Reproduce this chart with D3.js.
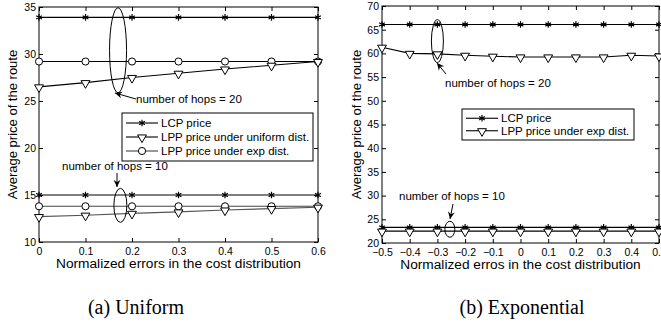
<!DOCTYPE html>
<html>
<head>
<meta charset="utf-8">
<script src="https://cdn.jsdelivr.net/npm/d3@7"></script>
<style>
  body { margin: 0; background: #fff; }
  svg { display: block; font-family: "Liberation Sans", Arial, sans-serif; }
</style>
</head>
<body>
<div id="chart"></div>
<script>
// panel (a): uniform
const errA = [0, 0.1, 0.2, 0.3, 0.4, 0.5, 0.6];
const lcp20A = [33.9, 33.9, 33.9, 33.9, 33.9, 33.9, 33.9];
const uni20A = [26.5, 26.95, 27.5, 27.95, 28.4, 28.8, 29.2];
const exp20A = [29.2, 29.2, 29.2, 29.2, 29.2, 29.2, 29.2];
const lcp10A = [15.0, 15.0, 15.0, 15.0, 15.0, 15.0, 15.0];
const uni10A = [12.7, 12.85, 13.05, 13.2, 13.4, 13.55, 13.7];
const exp10A = [13.8, 13.8, 13.8, 13.8, 13.8, 13.8, 13.8];
const yTicksA = [10, 15, 20, 25, 30, 35];
const xTicksA = [0, 0.1, 0.2, 0.3, 0.4, 0.5, 0.6];

// panel (b): exponential
const errB = [-0.5, -0.4, -0.3, -0.2, -0.1, 0, 0.1, 0.2, 0.3, 0.4, 0.5];
const lcp20B = [66.1, 66.1, 66.1, 66.1, 66.1, 66.1, 66.1, 66.1, 66.1, 66.1, 66.1];
const exp20B = [61.3, 60.0, 59.9, 59.6, 59.4, 59.25, 59.25, 59.25, 59.25, 59.6, 59.45];
const lcp10B = [23.3, 23.3, 23.3, 23.3, 23.3, 23.3, 23.3, 23.3, 23.3, 23.3, 23.3];
const exp10B = [22.5, 22.5, 22.5, 22.5, 22.5, 22.5, 22.5, 22.5, 22.5, 22.5, 22.5];
const yTicksB = [20, 25, 30, 35, 40, 45, 50, 55, 60, 65, 70];
const xTicksB = [-0.5, -0.4, -0.3, -0.2, -0.1, 0, 0.1, 0.2, 0.3, 0.4, 0.5];

const svg = d3.select("#chart").append("svg")
  .attr("width", 661).attr("height", 335);

const star = d3.symbol().type(d3.symbolAsterisk).size(30);
const tri = d3.symbol().type(d3.symbolTriangle).size(34);
const circ = d3.symbol().type(d3.symbolCircle).size(40);

function marker(g, kind, cx, cy) {
  if (kind === "star") {
    g.append("path").attr("d", star()).attr("transform", `translate(${cx},${cy})`)
      .attr("fill", "none").attr("stroke", "#000").attr("stroke-width", 1.2);
  } else if (kind === "tri") {
    g.append("path").attr("d", tri()).attr("transform", `translate(${cx},${cy + 0.5}) rotate(180)`)
      .attr("fill", "#fff").attr("stroke", "#000").attr("stroke-width", 1);
  } else {
    g.append("path").attr("d", circ()).attr("transform", `translate(${cx},${cy})`)
      .attr("fill", "#fff").attr("stroke", "#000").attr("stroke-width", 1);
  }
}

function panel(o) {
  const x = d3.scaleLinear().domain(o.xDomain).range([o.left, o.right]);
  const y = d3.scaleLinear().domain(o.yDomain).range([o.bottom, o.top]);
  const g = svg.append("g");

  g.append("rect").attr("x", o.left).attr("y", o.top)
    .attr("width", o.right - o.left).attr("height", o.bottom - o.top)
    .attr("fill", "none").attr("stroke", "#000").attr("stroke-width", 1);

  // inside ticks on all four sides, matlab style
  const ax = g.append("g").attr("transform", `translate(0,${o.bottom})`)
    .call(d3.axisBottom(x).tickValues(o.xTicks).tickSizeInner(-4).tickSizeOuter(0)
      .tickPadding(6).tickFormat(o.xFmt));
  const axT = g.append("g").attr("transform", `translate(0,${o.top})`)
    .call(d3.axisTop(x).tickValues(o.xTicks).tickSizeInner(-4).tickSizeOuter(0).tickFormat(""));
  const ay = g.append("g").attr("transform", `translate(${o.left},0)`)
    .call(d3.axisLeft(y).tickValues(o.yTicks).tickSizeInner(-4).tickSizeOuter(0).tickPadding(3));
  const ayR = g.append("g").attr("transform", `translate(${o.right},0)`)
    .call(d3.axisRight(y).tickValues(o.yTicks).tickSizeInner(-4).tickSizeOuter(0).tickFormat(""));
  [ax, axT, ay, ayR].forEach(a => {
    a.select(".domain").remove();
    a.selectAll("text").attr("font-size", 10.5).attr("fill", "#000")
      .attr("font-family", "Liberation Sans, Arial, sans-serif");
  });

  const line = d3.line().x((d, i) => x(o.xs[i])).y(d => y(d));
  o.series.forEach(s => {
    g.append("path").attr("d", line(s.values)).attr("fill", "none")
      .attr("stroke", s.color || "#000").attr("stroke-width", 1.1);
  });
  o.series.forEach(s => {
    s.values.forEach((v, i) => marker(g, s.kind, x(o.xs[i]), y(v)));
  });

  g.append("text").attr("x", (o.left + o.right) / 2).attr("y", o.bottom + 26)
    .attr("text-anchor", "middle").attr("font-size", 13.7).text(o.xLabel);
  g.append("text").attr("transform", `translate(${o.yLabelX},${(o.top + o.bottom) / 2}) rotate(-90)`)
    .attr("text-anchor", "middle").attr("font-size", 13).text("Average price of the route");

  // legend
  const L = o.legend;
  g.append("rect").attr("x", L.x).attr("y", L.y).attr("width", L.w)
    .attr("height", L.rowH * L.items.length + 6)
    .attr("fill", "#fff").attr("stroke", "#000").attr("stroke-width", 1);
  L.items.forEach((it, i) => {
    const cy = L.y + 3 + L.rowH * (i + 0.5);
    g.append("line").attr("x1", L.x + 4).attr("x2", L.x + 36).attr("y1", cy).attr("y2", cy)
      .attr("stroke", it.color || "#000").attr("stroke-width", 1.1);
    marker(g, it.kind, L.x + 20, cy);
    g.append("text").attr("x", L.x + 39).attr("y", cy + 4).attr("font-size", 11.5).text(it.label);
  });

  // annotations
  o.notes.forEach(n => {
    g.append("ellipse").attr("cx", x(n.ex)).attr("cy", y(n.ey)).attr("rx", n.rx).attr("ry", n.ry)
      .attr("fill", "none").attr("stroke", "#000").attr("stroke-width", 1);
    g.append("text").attr("x", n.tx).attr("y", n.ty).attr("font-size", 11.5).text(n.text);
    const [x1, y1, x2, y2] = n.arrow;
    g.append("line").attr("x1", x1).attr("y1", y1).attr("x2", x2).attr("y2", y2)
      .attr("stroke", "#000").attr("stroke-width", 1);
    const ang = Math.atan2(y2 - y1, x2 - x1), hl = 8, hw = 0.45;
    const p = [[x2, y2],
      [x2 - hl * Math.cos(ang - hw), y2 - hl * Math.sin(ang - hw)],
      [x2 - hl * 0.6 * Math.cos(ang), y2 - hl * 0.6 * Math.sin(ang)],
      [x2 - hl * Math.cos(ang + hw), y2 - hl * Math.sin(ang + hw)]];
    g.append("path").attr("d", "M" + p.join("L") + "Z").attr("fill", "#000");
  });
}

panel({
  left: 39, right: 318, top: 7, bottom: 242,
  xDomain: [0, 0.6], yDomain: [10, 35], xs: errA,
  xTicks: xTicksA, yTicks: yTicksA, xFmt: d3.format("~g"),
  xLabel: "Normalized errors in the cost distribution", yLabelX: 17,
  series: [
    { values: lcp20A, kind: "star" }, { values: exp20A, kind: "circ" },
    { values: uni20A, kind: "tri" }, { values: lcp10A, kind: "star" },
    { values: exp10A, kind: "circ", color: "#444" }, { values: uni10A, kind: "tri", color: "#555" }
  ],
  legend: { x: 122, y: 113, w: 191, rowH: 14, items: [
    { kind: "star", label: "LCP price" },
    { kind: "tri", label: "LPP price under uniform dist." },
    { kind: "circ", label: "LPP price under exp dist.", color: "#444" }
  ] },
  notes: [
    { ex: 0.17, ey: 30.4, rx: 8.5, ry: 42.5, text: "number of hops = 20", tx: 136, ty: 103,
      arrow: [136, 99, 115, 93] },
    { ex: 0.175, ey: 13.9, rx: 6.5, ry: 17, text: "number of hops = 10", tx: 62, ty: 170,
      arrow: [117, 173, 117, 187] }
  ]
});

panel({
  left: 382, right: 659, top: 6, bottom: 243,
  xDomain: [-0.5, 0.5], yDomain: [20, 70], xs: errB,
  xTicks: xTicksB, yTicks: yTicksB, xFmt: d => d3.format("~g")(d).replace("-", "\u2212"),
  xLabel: "Normalized erros in the cost distribution", yLabelX: 361,
  series: [
    { values: lcp20B, kind: "star" }, { values: exp20B, kind: "tri" },
    { values: lcp10B, kind: "star" }, { values: exp10B, kind: "tri" }
  ],
  legend: { x: 462, y: 109, w: 172, rowH: 12.5, items: [
    { kind: "star", label: "LCP price" },
    { kind: "tri", label: "LPP price under exp dist." }
  ] },
  notes: [
    { ex: -0.3, ey: 62.6, rx: 6, ry: 21.5, text: "number of hops = 20", tx: 445, ty: 87,
      arrow: [446, 74, 437, 63] },
    { ex: -0.255, ey: 22.9, rx: 5, ry: 8, text: "number of hops = 10", tx: 399, ty: 200,
      arrow: [453, 204, 450, 219] }
  ]
});

// captions
svg.append("text").attr("x", 136).attr("y", 314).attr("text-anchor", "middle")
  .attr("font-family", "Liberation Serif, Times New Roman, serif").attr("font-size", 20)
  .text("(a) Uniform");
svg.append("text").attr("x", 522).attr("y", 314).attr("text-anchor", "middle")
  .attr("font-family", "Liberation Serif, Times New Roman, serif").attr("font-size", 20)
  .text("(b) Exponential");
</script>
</body>
</html>
